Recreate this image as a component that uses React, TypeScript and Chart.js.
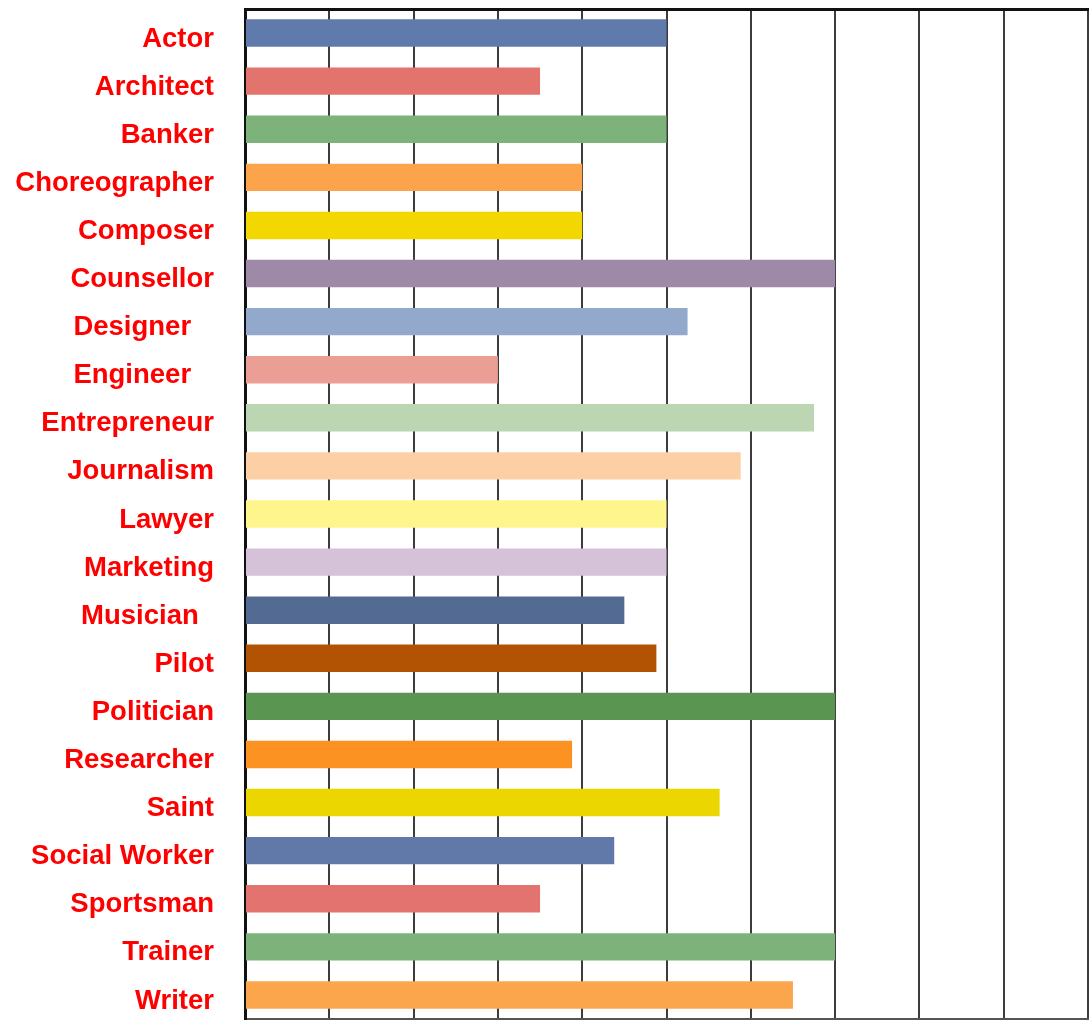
import React, { useEffect, useRef } from "react";
import { Chart, registerables } from "chart.js";

Chart.register(...registerables);

const categories = [
  "Actor",
  "Architect",
  "Banker",
  "Choreographer",
  "Composer",
  "Counsellor",
  "Designer   ",
  "Engineer   ",
  "Entrepreneur",
  "Journalism",
  "Lawyer",
  "Marketing",
  "Musician  ",
  "Pilot",
  "Politician",
  "Researcher",
  "Saint",
  "Social Worker",
  "Sportsman",
  "Trainer",
  "Writer",
];

const values = [5, 3.5, 5, 4, 4, 7, 5.25, 3, 6.75, 5.88, 5, 5, 4.5, 4.88, 7, 3.88, 5.63, 4.38, 3.5, 7, 6.5];

const barColors = [
  "#5f7aab",
  "#e3736d",
  "#7db37a",
  "#fba44c",
  "#f2d700",
  "#9e8aa8",
  "#93a9cc",
  "#eb9e93",
  "#bcd6b4",
  "#fdcfa4",
  "#fef68d",
  "#d6c2d8",
  "#536a93",
  "#b25304",
  "#5a9651",
  "#fc9222",
  "#ecd600",
  "#6179a9",
  "#e3736e",
  "#7db37a",
  "#fba64d",
];

const xMin = 0;
const xMax = 10;
const xStep = 1;

export default function App() {
  const ref = useRef<HTMLCanvasElement | null>(null);

  useEffect(() => {
    if (!ref.current) return;
    const chart = new Chart(ref.current, {
      type: "bar",
      data: {
        labels: categories,
        datasets: [
          {
            data: values,
            backgroundColor: barColors,
            borderWidth: 0,
            categoryPercentage: 1,
            barPercentage: 0.57,
          },
        ],
      },
      options: {
        indexAxis: "y",
        animation: false,
        responsive: true,
        maintainAspectRatio: false,
        layout: { padding: { top: 9, right: 2, bottom: 1, left: 0 } },
        plugins: {
          legend: { display: false },
          tooltip: { enabled: false },
          title: { display: false },
        },
        scales: {
          x: {
            type: "linear",
            position: "bottom",
            min: xMin,
            max: xMax,
            ticks: { display: false, stepSize: xStep },
            grid: { color: "#3c3c3c", lineWidth: 2, drawTicks: false },
            border: { display: true, color: "#555555", width: 2 },
            afterFit: (scale: any) => {
              scale.height = 0;
              scale.paddingLeft = 0;
              scale.paddingRight = 0;
            },
          },
          x2: {
            type: "linear",
            position: "top",
            min: xMin,
            max: xMax,
            ticks: { display: false },
            grid: { display: false, drawTicks: false },
            border: { display: true, color: "#111111", width: 3 },
            afterFit: (scale: any) => {
              scale.height = 0;
              scale.paddingLeft = 0;
              scale.paddingRight = 0;
            },
          },
          y: {
            type: "category",
            position: "left",
            grid: { display: false, drawTicks: false },
            border: { display: true, color: "#111111", width: 3 },
            ticks: {
              color: "#ff0000",
              padding: 31,
              labelOffset: 6,
              font: { family: "'Liberation Sans', Arial, sans-serif", size: 27.5, weight: "bold" },
              autoSkip: false,
            },
            afterFit: (scale: any) => {
              scale.width = 245;
              scale.paddingTop = 0;
              scale.paddingBottom = 0;
            },
          },
        },
      },
    });
    return () => chart.destroy();
  }, []);

  return (
    <div style={{ position: "fixed", left: 0, top: 0, width: 1090, height: 1020, background: "#ffffff" }}>
      <canvas ref={ref} />
    </div>
  );
}
